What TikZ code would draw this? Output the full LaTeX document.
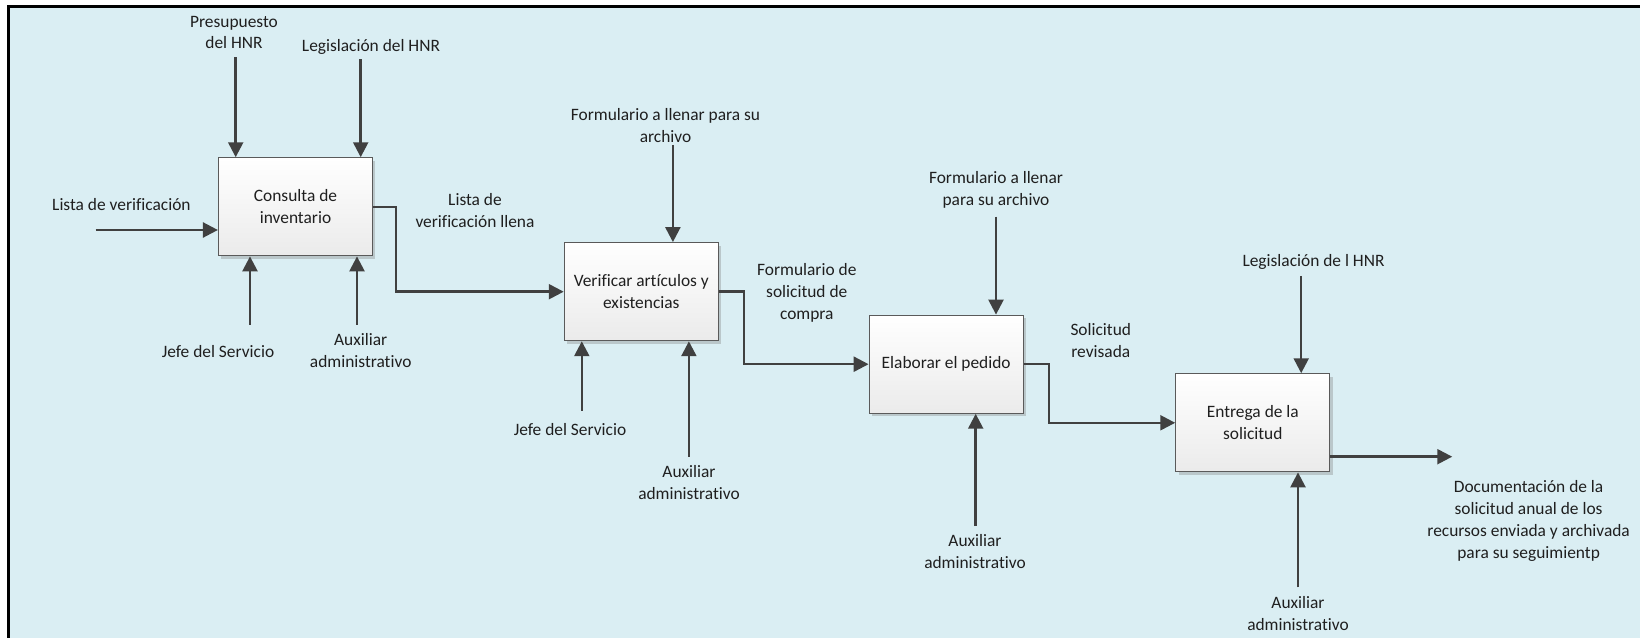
\documentclass[tikz,border=0pt]{standalone}
\usepackage{fontspec}
\setmainfont{Carlito}[Ligatures=NoCommon]
\usetikzlibrary{positioning,arrows.meta,shadows}

\definecolor{bgblue}{HTML}{DAEEF3}
\definecolor{linegray}{HTML}{404040}
\definecolor{boxedge}{HTML}{5A5A5A}

\begin{document}
\begin{tikzpicture}[
    x=0.02cm, y=-0.02cm,
    every node/.style={font=\fontsize{9.9}{12.5}\selectfont, text=black!88},
    activity/.style={rectangle, draw=boxedge, line width=0.7pt, top color=white, bottom color=gray!16, minimum width=3.08cm, minimum height=1.96cm, align=center, drop shadow={shadow xshift=1.6pt, shadow yshift=-1.6pt, fill=gray, opacity=0.35}},
    lbl/.style={align=center, inner sep=0pt},
    arrow/.style={-{Triangle[length=8.5pt,width=8.5pt]}, line width=1.4pt, draw=linegray}
]

% Canvas and frame
\useasboundingbox (0,0) rectangle (1640,638);
\fill[white] (0,0) rectangle (1640,638);
\fill[bgblue] (8.7,6.5) rectangle (1640,638);
\draw[black, line width=1.5pt] (8.7,638) -- (8.7,6.5) -- (1640,6.5);

% === Activities ===
\node[activity] (cons) at (295.5,206.8) {Consulta de\\inventario};
\node[activity] (verif) at (641.3,291.7) {Verificar artículos y\\existencias};
\node[activity] (elab) at (946.2,364.2) {Elaborar el pedido};
\node[activity] (entr) at (1252.8,422.8) {Entrega de la\\solicitud};

% === Labels ===
\node[lbl] (presup) at (234,32.5) {Presupuesto\\del HNR};
\node[lbl] (legis1) at (371,46.7) {Legislación del HNR};
\node[lbl] (lista) at (121.4,205) {Lista de verificación};
\node[lbl] (llena) at (475,211) {Lista de\\verificación llena};
\node[lbl] (jefe1) at (218,351.7) {Jefe del Servicio};
\node[lbl] (aux1) at (360.7,351) {Auxiliar\\administrativo};

\node[lbl] (form1) at (665.5,126) {Formulario a llenar para su\\archivo};
\node[lbl] (compra) at (806.8,292.7) {Formulario de\\solicitud de\\compra};
\node[lbl] (jefe2) at (570,429.3) {Jefe del Servicio};
\node[lbl] (aux2) at (689,482.5) {Auxiliar\\administrativo};

\node[lbl] (form2) at (996,190) {Formulario a llenar\\para su archivo};
\node[lbl] (aux3) at (975,552) {Auxiliar\\administrativo};
\node[lbl] (solic) at (1100.8,341) {Solicitud\\revisada};

\node[lbl] (legis2) at (1313.5,262.3) {Legislación de l HNR};
\node[lbl] (aux4) at (1298,613.4) {Auxiliar\\administrativo};
\node[lbl] (docu) at (1528.6,520.6) {Documentación de la\\solicitud anual de los\\recursos enviada y archivada\\para su seguimientp};

% === Arrow ends ===
\coordinate (in1) at (95.7,230);
\coordinate (p1) at (235.7,57.3);
\coordinate (l1) at (360.7,59.3);
\coordinate (j1) at (250,325);
\coordinate (a1) at (357,325);
\coordinate (f1) at (672.9,145);
\coordinate (j2) at (581.8,410.7);
\coordinate (a2) at (688.9,456.7);
\coordinate (f2) at (996,216.7);
\coordinate (a3) at (975.7,526);
\coordinate (l2) at (1301.2,276);
\coordinate (a4) at (1298,587.3);
\coordinate (out4) at (1452.2,456.7);

% === ARROWS ===

% Consulta de inventario
\draw[arrow] (in1) -- (in1 -| cons.west);
\draw[arrow] (p1) -- (p1 |- cons.north);
\draw[arrow] (l1) -- (l1 |- cons.north);
\draw[arrow] (j1) -- (j1 |- cons.south);
\draw[arrow] (a1) -- (a1 |- cons.south);
\draw[arrow] (cons.east) -- ++(23,0) |- (verif.west);

% Verificar
\draw[arrow] (f1) -- (f1 |- verif.north);
\draw[arrow] (j2) -- (j2 |- verif.south);
\draw[arrow] (a2) -- (a2 |- verif.south);
\draw[arrow] (verif.east) -- ++(25,0) |- (elab.west);

% Elaborar
\draw[arrow] (f2) -- (f2 |- elab.north);
\draw[arrow] (a3) -- (a3 |- elab.south);
\draw[arrow] (elab.east) -- ++(25,0) |- (entr.west);

% Entrega
\draw[arrow] (l2) -- (l2 |- entr.north);
\draw[arrow] (a4) -- (a4 |- entr.south);
\draw[arrow] (out4 -| entr.east) -- (out4);

\end{tikzpicture}
\end{document}
